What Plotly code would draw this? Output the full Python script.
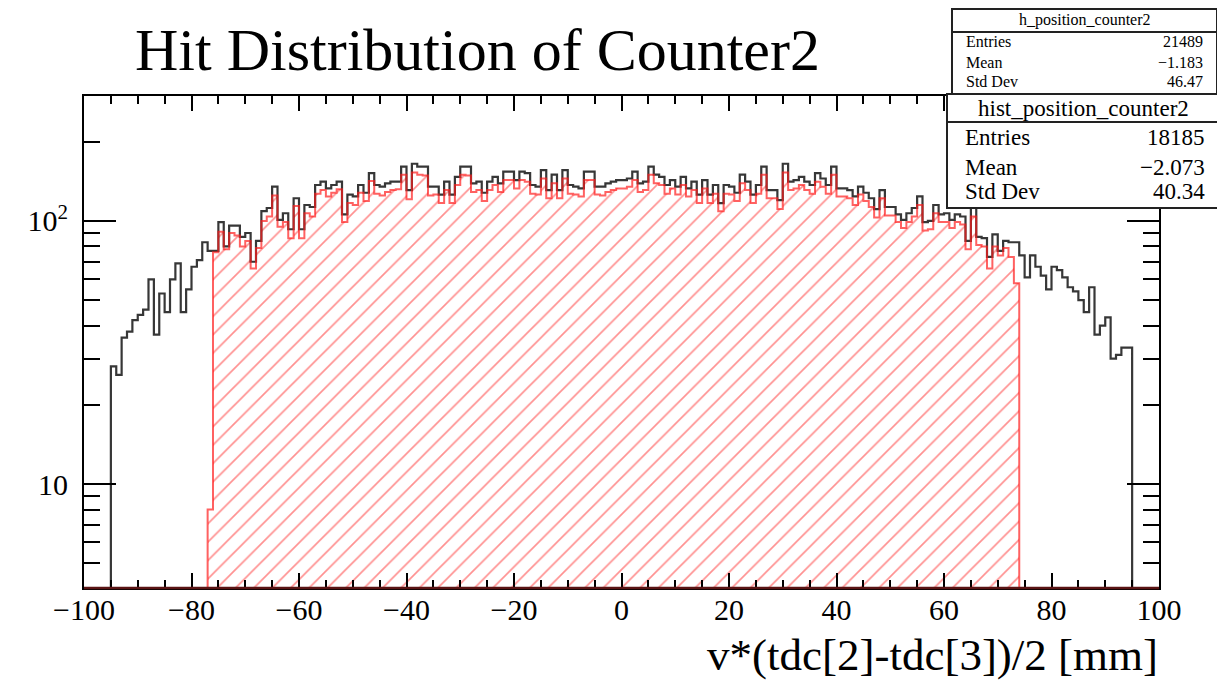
import numpy as np
import plotly.graph_objects as go

# ---------------- data ----------------
BIN_WIDTH = 1.0
BLACK_START = -95.0   # left edge of first filled bin of h_position_counter2
RED_START = -77.0     # left edge of first filled bin of hist_position_counter2

black_counts = [
    28, 26, 36, 38, 42, 44, 46, 60, 37, 53,
    45, 60, 69, 45, 55, 67, 71, 83, 77, 77,
    99, 80, 96, 96, 87, 90, 70, 84, 109, 112,
    135, 101, 107, 93, 122, 93, 115, 113, 137, 141,
    133, 137, 141, 106, 126, 124, 137, 128, 152, 137,
    135, 139, 141, 141, 161, 131, 165, 161, 161, 135,
    135, 126, 141, 126, 147, 161, 161, 139, 141, 128,
    141, 147, 139, 154, 154, 143, 154, 152, 137, 135,
    156, 131, 150, 131, 156, 137, 135, 133, 154, 154,
    135, 135, 139, 141, 143, 143, 145, 154, 139, 141,
    161, 150, 147, 137, 143, 135, 147, 133, 141, 126,
    143, 126, 137, 117, 137, 135, 128, 150, 141, 126,
    137, 161, 131, 131, 120, 165, 141, 143, 147, 141,
    137, 152, 145, 137, 161, 133, 133, 131, 124, 135,
    128, 122, 111, 131, 113, 113, 106, 101, 107, 112,
    124, 99, 100, 115, 106, 107, 101, 106, 104, 84,
    114, 87, 86, 73, 89, 77, 84, 83, 83, 74,
    61, 74, 67, 62, 55, 67, 65, 61, 56, 54,
    50, 45, 56, 37, 40, 43, 30, 31, 33, 33,
]

red_counts = [
    8, 76, 91, 78, 90, 88, 80, 84, 66, 79,
    100, 104, 125, 95, 99, 86, 114, 86, 107, 104,
    127, 131, 124, 128, 132, 99, 117, 115, 128, 119,
    142, 127, 125, 129, 131, 132, 150, 121, 153, 150,
    149, 125, 126, 117, 131, 117, 137, 150, 149, 129,
    131, 119, 131, 137, 129, 143, 143, 133, 143, 141,
    127, 126, 145, 122, 139, 122, 145, 127, 126, 124,
    143, 143, 126, 125, 129, 131, 133, 133, 135, 143,
    129, 131, 150, 139, 137, 127, 133, 126, 137, 124,
    131, 117, 133, 117, 127, 109, 127, 126, 119, 139,
    131, 117, 127, 150, 122, 122, 111, 153, 131, 133,
    137, 131, 127, 141, 135, 127, 150, 124, 124, 122,
    115, 126, 119, 113, 103, 122, 105, 105, 99, 94,
    99, 104, 115, 92, 93, 107, 99, 99, 94, 99,
    97, 78, 104, 81, 80, 66, 80, 74, 79, 73,
    58,
]

stats_black = {"name": "h_position_counter2", "Entries": "21489", "Mean": "\u22121.183", "Std Dev": "46.47"}
stats_red = {"name": "hist_position_counter2", "Entries": "18185", "Mean": "\u22122.073", "Std Dev": "40.34"}

TITLE = "Hit Distribution of Counter2"
X_TITLE = "v*(tdc[2]-tdc[3])/2 [mm]"
X_RANGE = [-100, 100]
Y_LOG_RANGE = [0.605, 2.475]
Y_FLOOR = 10 ** Y_LOG_RANGE[0]

FONT = "Liberation Serif"

# ---------------- helpers ----------------
def step_outline(start, counts):
    n = len(counts)
    edges = start + BIN_WIDTH * np.arange(n + 1)
    xs = [X_RANGE[0], edges[0]] + list(edges[:n]) + [edges[n], X_RANGE[1]]
    ys = [Y_FLOOR, Y_FLOOR] + list(counts) + [Y_FLOOR, Y_FLOOR]
    return xs, ys

red_centers = RED_START + BIN_WIDTH * (np.arange(len(red_counts)) + 0.5)

fig = go.Figure()

# hatched fill of the red histogram
fig.add_trace(go.Bar(
    x=red_centers, y=red_counts, width=BIN_WIDTH,
    marker=dict(color="rgba(0,0,0,0)", line=dict(width=0),
                pattern=dict(shape="/", fgcolor="rgb(255,35,35)",
                             bgcolor="rgba(0,0,0,0)", size=13, solidity=0.13,
                             fillmode="overlay")),
    hoverinfo="skip",
))

bx, by = step_outline(BLACK_START, black_counts)
fig.add_trace(go.Scatter(x=bx, y=by, mode="lines", line=dict(shape="hv", color="rgba(20,20,20,0.85)", width=2.2),
                         hoverinfo="skip"))
rx, ry = step_outline(RED_START, red_counts)
fig.add_trace(go.Scatter(x=rx, y=ry, mode="lines", line=dict(shape="hv", color="rgba(255,30,30,0.7)", width=2),
                         hoverinfo="skip"))

# ---------------- layout ----------------
# window coordinates of the frame (page body has an 8 px margin)
BODY = 8
W, H = 1225, 684
FRAME_L, FRAME_R, FRAME_T, FRAME_B = 84, 1159, 96, 588
L = FRAME_L - BODY
T = FRAME_T - BODY
R = W + BODY - FRAME_R
B = H + BODY - FRAME_B
PW, PH = FRAME_R - FRAME_L, FRAME_B - FRAME_T

def px(xpix):
    return (xpix - FRAME_L) / PW

def py(ypix):
    return (FRAME_B - ypix) / PH

axis_common = dict(showline=True, linecolor="black", linewidth=2, mirror="ticks",
                   ticks="inside", tickcolor="black", showgrid=False, zeroline=False,
                   tickfont=dict(family=FONT, size=30, color="black"))

fig.update_layout(
    width=W, height=H,
    margin=dict(l=L, r=R, t=T, b=B),
    plot_bgcolor="white", paper_bgcolor="white",
    showlegend=False, bargap=0, barmode="overlay",
    xaxis=dict(range=X_RANGE, tick0=-100, dtick=20, ticklen=15, tickwidth=1.5,
               ticklabelstandoff=-6,
               minor=dict(tick0=-100, dtick=5, ticks="inside", ticklen=8, tickwidth=1.5, tickcolor="black"),
               **axis_common),
    yaxis=dict(type="log", range=Y_LOG_RANGE, tickvals=[10, 100], ticktext=["10", "10<sup>2</sup>"],
               ticklen=32, tickwidth=1.5, ticklabelstandoff=8,
               minor=dict(tickvals=[5, 6, 7, 8, 9, 20, 30, 40, 50, 60, 70, 80, 90, 200],
                          ticks="inside", ticklen=16, tickwidth=1.5, tickcolor="black"),
               **axis_common),
)

shapes = []
annotations = []

# dark red zero line of the red histogram along the bottom
shapes.append(dict(type="line", xref="paper", yref="paper", x0=0, x1=1, y0=0, y1=0,
                   line=dict(color="#5a1414", width=2.5), layer="above"))

annotations.append(dict(text=TITLE, xref="paper", yref="paper", x=px(133), y=py(50),
                        xanchor="left", yanchor="middle", showarrow=False,
                        font=dict(family=FONT, size=60, color="black")))
annotations.append(dict(text=X_TITLE, xref="paper", yref="paper", x=px(1160), y=py(655),
                        xanchor="right", yanchor="middle", showarrow=False,
                        font=dict(family=FONT, size=45, color="black")))

def stats_box(st, x0, x1, y0, y1, ydiv, ytitle, rows_y, fsize, lab_x, val_x):
    shapes.append(dict(type="rect", xref="paper", yref="paper", x0=px(x0), x1=px(x1), y0=py(y1), y1=py(y0),
                       fillcolor="white", line=dict(color="#222", width=2), layer="above"))
    shapes.append(dict(type="line", xref="paper", yref="paper", x0=px(x0), x1=px(x1), y0=py(ydiv), y1=py(ydiv),
                       line=dict(color="#222", width=2), layer="above"))
    annotations.append(dict(text=st["name"], xref="paper", yref="paper", x=px((x0 + x1) / 2), y=py(ytitle),
                            xanchor="center", yanchor="middle", showarrow=False,
                            font=dict(family=FONT, size=fsize, color="black")))
    for key, yy in zip(["Entries", "Mean", "Std Dev"], rows_y):
        annotations.append(dict(text=key, xref="paper", yref="paper", x=px(lab_x), y=py(yy),
                                xanchor="left", yanchor="middle", showarrow=False,
                                font=dict(family=FONT, size=fsize, color="black")))
        annotations.append(dict(text=st[key], xref="paper", yref="paper", x=px(val_x), y=py(yy),
                                xanchor="right", yanchor="middle", showarrow=False,
                                font=dict(family=FONT, size=fsize, color="black")))

stats_box(stats_black, 952, 1217, 9, 95, 32, 20, [42, 63, 82], 16, 964, 1205)
stats_box(stats_red, 947, 1219, 94, 208, 122, 108, [137, 167, 192], 23, 963, 1207)

fig.update_layout(shapes=shapes, annotations=annotations)

fig.write_html("out.html")
